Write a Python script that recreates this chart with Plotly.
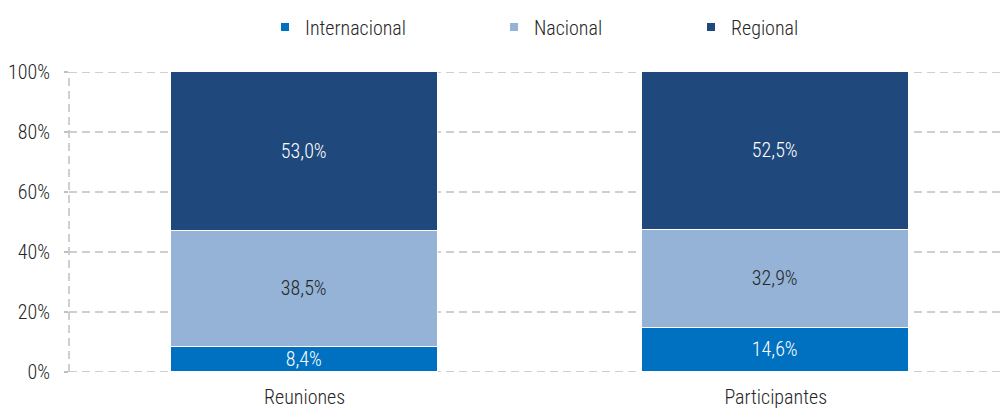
import plotly.graph_objects as go

categories = ["Reuniones", "Participantes"]
series_names = ["Internacional", "Nacional", "Regional"]
internacional = [8.4, 14.6]
nacional = [38.5, 32.9]
regional = [53.0, 52.5]
tick_vals = [0, 20, 40, 60, 80, 100]
tick_text = ["0%", "20%", "40%", "60%", "80%", "100%"]

colors = ["#0070C0", "#95B3D7", "#1F497D"]
label_colors = ["white", "#262626", "white"]
FONT = "Roboto Condensed, Liberation Sans Narrow, Roboto, sans-serif"
W = 300
FS = 20
GRID = "#C0C0C0"

def fmt(v):
    return f"{v:.1f}".replace(".", ",") + "%"

fig = go.Figure()
values = [internacional, nacional, regional]
legend_ids = ["legend", "legend2", "legend3"]
for name, vals, col, lc in zip(series_names, values, colors, label_colors):
    fig.add_trace(go.Bar(
        x=categories, y=vals, name=name,
        marker=dict(color=col, line=dict(color="white", width=1.5)),
        text=[fmt(v) for v in vals], textposition="inside",
        insidetextanchor="middle", constraintext="none",
        textfont=dict(family=FONT, size=FS, color=lc, weight=W),
        width=0.567, showlegend=False, hoverinfo="skip",
    ))

for name, col, lid in zip(series_names, colors, legend_ids):
    fig.add_trace(go.Scatter(
        x=[None], y=[None], mode="markers", name=name,
        marker=dict(symbol="square", size=8, color=col),
        legend=lid, showlegend=True,
    ))

# dashed gridlines (drawn below the bars) at the tick values, plus the dashed left axis
shapes = [dict(type="line", xref="paper", yref="y", x0=0, x1=1, y0=v, y1=v,
               line=dict(color=GRID, width=1.5, dash="8px,5px"), layer="below")
          for v in tick_vals]
shapes.append(dict(type="line", xref="paper", yref="y", x0=0, x1=0,
                   y0=tick_vals[0], y1=tick_vals[-1],
                   line=dict(color=GRID, width=1.5, dash="8px,5px"), layer="below"))

legend_common = dict(orientation="h", yanchor="middle", y=1.15, xanchor="left",
                     font=dict(family=FONT, size=FS, color="#262626", weight=W),
                     itemwidth=30, bgcolor="rgba(0,0,0,0)", borderwidth=0)
fig.update_layout(
    barmode="stack",
    bargap=0,
    width=1000, height=408,
    margin=dict(l=69, r=0, t=72, b=36, autoexpand=False),
    paper_bgcolor="white", plot_bgcolor="white",
    font=dict(family=FONT, size=FS, color="#262626", weight=W),
    uniformtext=dict(minsize=FS, mode="show"),
    legend=dict(legend_common, x=(265 - 69) / 931),
    legend2=dict(legend_common, x=(494 - 69) / 931),
    legend3=dict(legend_common, x=(691 - 69) / 931),
    xaxis=dict(range=[-0.5, 1.476], showgrid=False, showline=False, zeroline=False,
               ticks="", automargin=False, ticklabelstandoff=11,
               tickfont=dict(family=FONT, size=FS, color="#262626", weight=W)),
    yaxis=dict(range=[0, 100], tickvals=tick_vals, ticktext=tick_text,
               showgrid=False, zeroline=False, showline=False,
               ticks="outside", ticklen=4, tickcolor=GRID, tickwidth=1.5,
               ticklabelstandoff=10, automargin=False,
               tickfont=dict(family=FONT, size=FS, color="#262626", weight=W)),
    shapes=shapes,
)

fig.write_html("out.html", config={"displayModeBar": False},
               post_script="document.body.style.margin='0';document.body.style.padding='0';document.body.style.overflow='hidden';")
